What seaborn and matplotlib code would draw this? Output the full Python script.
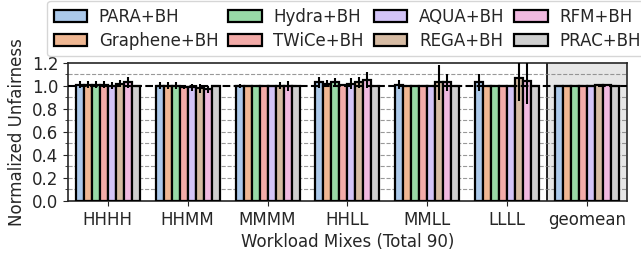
import numpy as np
import pandas as pd
import matplotlib
matplotlib.use("Agg")
import matplotlib.pyplot as plt
import seaborn as sns
from matplotlib.ticker import MultipleLocator

mixes = ["HHHH", "HHMM", "MMMM", "HHLL", "MMLL", "LLLL", "geomean"]
mechs = ["PARA+BH", "Graphene+BH", "Hydra+BH", "TWiCe+BH", "AQUA+BH", "REGA+BH", "RFM+BH", "PRAC+BH"]

para     = [1.01, 1.00, 1.00, 1.03, 1.01, 1.03, 1.00]
graphene = [1.01, 1.00, 1.00, 1.02, 1.00, 1.00, 1.00]
hydra    = [1.01, 1.00, 1.00, 1.03, 1.00, 1.00, 1.00]
twice    = [1.01, 0.99, 1.00, 1.01, 1.00, 1.00, 1.00]
aqua     = [1.00, 0.99, 1.00, 1.02, 1.00, 1.00, 1.00]
rega     = [1.02, 0.98, 1.00, 1.03, 1.03, 1.07, 1.01]
rfm      = [1.03, 0.97, 1.00, 1.05, 1.03, 1.04, 1.01]
prac     = [1.00, 1.00, 1.00, 1.00, 1.00, 1.00, 1.00]

para_err     = [0.03, 0.03, 0.02, 0.05, 0.04, 0.07, 0.0]
graphene_err = [0.03, 0.03, 0.00, 0.03, 0.00, 0.00, 0.0]
hydra_err    = [0.03, 0.03, 0.00, 0.04, 0.01, 0.00, 0.0]
twice_err    = [0.03, 0.02, 0.00, 0.01, 0.00, 0.00, 0.0]
aqua_err     = [0.03, 0.03, 0.00, 0.05, 0.00, 0.00, 0.0]
rega_err     = [0.03, 0.04, 0.03, 0.05, 0.15, 0.20, 0.0]
rfm_err      = [0.05, 0.03, 0.04, 0.07, 0.07, 0.20, 0.0]
prac_err     = [0.00, 0.00, 0.00, 0.00, 0.00, 0.00, 0.0]

vals = [para, graphene, hydra, twice, aqua, rega, rfm, prac]
errs = [para_err, graphene_err, hydra_err, twice_err, aqua_err, rega_err, rfm_err, prac_err]

rows = []
for m, v in zip(mechs, vals):
    for mix, y in zip(mixes, v):
        rows.append({"mix": mix, "mech": m, "val": y})
df = pd.DataFrame(rows)

sns.set_style("ticks")
plt.rcParams["font.family"] = ["DejaVu Sans"]

fig = plt.figure(figsize=(6.41, 2.59), dpi=100)
ax = fig.add_axes([0.106, 0.224, 0.872, 0.533])

ax.axvspan(5.5, 6.6, color="#e6e6e6", zorder=0)
ax.axvline(5.5, color="black", lw=1.2, zorder=1)

sns.barplot(data=df, x="mix", y="val", hue="mech", order=mixes, hue_order=mechs,
            palette="pastel", edgecolor="black", linewidth=1.6, errorbar=None,
            ax=ax, zorder=3)

for i, (m, e) in enumerate(zip(mechs, errs)):
    cont = ax.containers[i]
    xs = [p.get_x() + p.get_width() / 2 for p in cont.patches]
    ys = [p.get_height() for p in cont.patches]
    ee = np.array(e)
    mask = ee > 0
    ax.errorbar(np.array(xs)[mask], np.array(ys)[mask], yerr=ee[mask], fmt="none",
                ecolor="black", elinewidth=1.5, capsize=0, zorder=4)

ax.set_ylim(0, 1.2)
ax.set_xlim(-0.5, 6.5)
ax.yaxis.set_major_locator(MultipleLocator(0.2))
ax.yaxis.set_minor_locator(MultipleLocator(0.1))
for yv in np.arange(0.1, 1.2, 0.1):
    if abs(yv - 1.0) > 1e-6:
        ax.axhline(yv, color="gray", lw=0.8, ls="--", alpha=0.8, zorder=1)
ax.axhline(1.0, color="black", lw=1.5, ls="--", zorder=5)

ax.set_ylabel("Normalized Unfairness", fontsize=12)
ax.set_xlabel("Workload Mixes (Total 90)", fontsize=12, labelpad=3)
ax.tick_params(axis="both", labelsize=12)
for s in ax.spines.values():
    s.set_linewidth(1.2)

handles, labels = ax.get_legend_handles_labels()
ax.legend_.remove()
ax.legend(handles, labels, ncol=4, loc="lower center", bbox_to_anchor=(0.5, 1.0),
          fontsize=12, frameon=True, columnspacing=0.6, handlelength=2.0,
          handletextpad=0.7, labelspacing=0.35, borderaxespad=0.4)

fig.savefig("out.png", dpi=100)
